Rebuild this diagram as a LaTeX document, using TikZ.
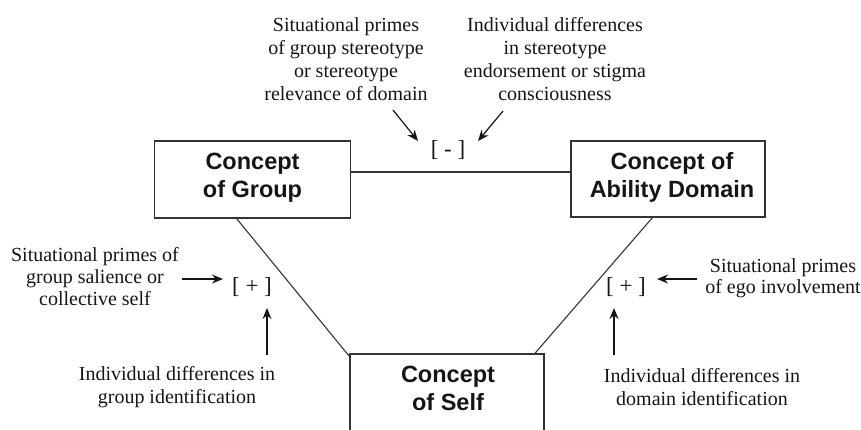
\documentclass[tikz,border=0pt]{standalone}
\usepackage{fontspec}
\setmainfont{Liberation Serif}
\newfontfamily\boxfont{Liberation Sans}
\usetikzlibrary{arrows.meta,calc}
\definecolor{inkc}{HTML}{151515}
\definecolor{linec}{HTML}{333333}
\tikzset{
  conceptbox/.style={draw=linec, line width=1.4pt, minimum width=196pt, minimum height=77pt, inner sep=0pt},
  boxtext/.style={font=\boxfont\bfseries\fontsize{23.5}{28}\selectfont, text=inkc, align=center, inner sep=0pt},
  note/.style={font=\fontsize{20}{23}\selectfont, text=inkc, align=center, inner sep=0pt},
  notetight/.style={font=\fontsize{20}{20.5}\selectfont, text=inkc, align=center, inner sep=0pt},
  sign/.style={font=\fontsize{23}{25}\selectfont, text=inkc, inner sep=2pt},
  link/.style={draw=linec, line width=1.1pt},
  arr/.style={draw=inkc, line width=1.2pt, -{Stealth[length=11pt,width=9pt]}}
}
\begin{document}
\begin{tikzpicture}[x=1pt,y=-1pt]
\useasboundingbox (0,0) rectangle (861,429);
% boxes
\node[conceptbox] (group) at (252.5,179.5) {};
\node[boxtext] (grouptext) at (252.5,178) {Concept\\of Group};
\node[conceptbox, minimum width=194pt, minimum height=76pt] (ability) at (668,179) {};
\node[boxtext] (abilitytext) at (672,177) {Concept of\\Ability Domain};
\node[conceptbox, minimum width=194pt, minimum height=100pt] (self) at (447,404) {};
\node[boxtext] (selftext) at (448,388) {Concept\\of Self};
% links
\draw[link] ([yshift=7.5pt]group.east) -- ([yshift=7.5pt]group.east -| ability.west);
\draw[link] ($(group.south west)!0.42!(group.south east)$) -- ([yshift=-3pt]self.north west);
\draw[link] ($(ability.south west)!0.42!(ability.south east)$) -- ($(self.north west)!0.95!(self.north east)$);
% signs
\node[sign] (minus) at (448,150) {[ - ]};
\node[sign] (plusl) at (252,287) {[ + ]};
\node[sign] (plusr) at (626,287) {[ + ]};
% notes
\node[note] (ntl) at (346,59) {Situational primes\\of group stereotype\\or stereotype\\relevance of domain};
\node[note] (ntr) at (555,59) {Individual differences\\in stereotype\\endorsement or stigma\\consciousness};
\node[note, font=\fontsize{20}{22}\selectfont] (nl) at (95,277) {Situational primes of\\group salience or\\collective self};
\node[notetight] (nr) at (783,278) {Situational primes\\of ego involvement};
\node[note] (nbl) at (177,387) {Individual differences in\\group identification};
\node[note] (nbr) at (702,387) {Individual differences in\\domain identification};
% arrows
\coordinate (a1) at (393,110);
\coordinate (a2) at (503,111);
\draw[arr] (a1) -- ($(minus.center)+(-30,-9)$);
\draw[arr] (a2) -- ($(minus.center)+(30,-9)$);
\coordinate (b1) at (182,279);
\coordinate (b2) at (267,355);
\draw[arr] (b1) -- (b1 -| {$(plusl.center)+(-29,0)$});
\draw[arr] (b2) -- ($(plusl.center)+(15,21)$);
\coordinate (c1) at (697,279);
\coordinate (c2) at (614,355);
\draw[arr] (c1) -- (c1 -| {$(plusr.center)+(31,0)$});
\draw[arr] (c2) -- ($(plusr.center)+(-12,21)$);
\end{tikzpicture}
\end{document}
